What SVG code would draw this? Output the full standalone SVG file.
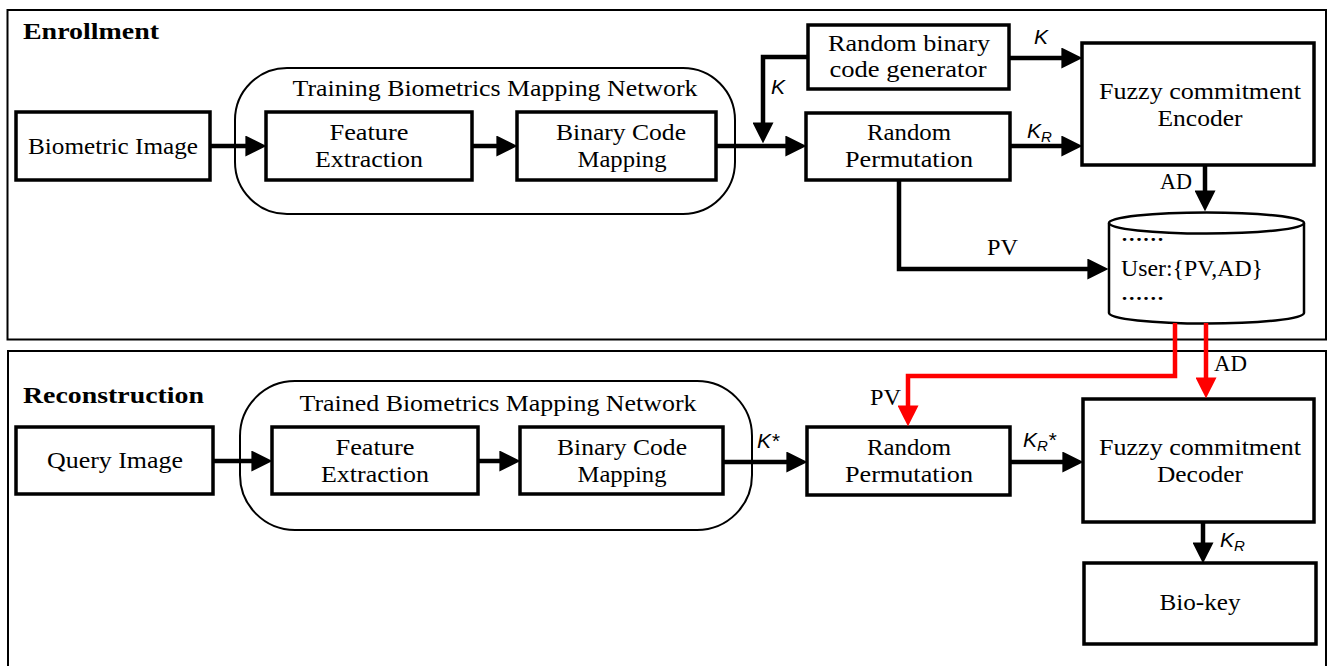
<svg xmlns="http://www.w3.org/2000/svg" width="1328" height="666" viewBox="0 0 1328 666">
  <style>
    .panel { fill: none; stroke: #000; stroke-width: 2; }
    .box { fill: #fff; stroke: #000; stroke-width: 3.5; }
    .group { fill: none; stroke: #000; stroke-width: 2; }
    .t { font-family: "Liberation Serif", "Times New Roman", serif; font-size: 24px; fill: #000; }
    .c { text-anchor: middle; }
    .dots { font-family: "Liberation Serif", "Times New Roman", serif; font-size: 18px; font-weight: bold; fill: #000; }
    .title { font-family: "Liberation Serif", "Times New Roman", serif; font-size: 24px; font-weight: bold; fill: #000; }
    .k { font-family: "Liberation Sans", Arial, sans-serif; font-style: italic; font-size: 21px; fill: #000; }
    .sub { font-size: 15px; }
    .wire { fill: none; stroke: #000; stroke-width: 4.5; stroke-linejoin: miter; marker-end: url(#arr); }
    .wire-red { fill: none; stroke: #ff0000; stroke-width: 4.5; stroke-linejoin: miter; marker-end: url(#arrRed); }
  </style>
  <defs>
    <marker id="arr" viewBox="0 0 20 20" markerUnits="userSpaceOnUse" markerWidth="21" markerHeight="21" refX="12" refY="10" orient="auto">
      <path d="M0,0 L20,10 L0,20 z" fill="#000"/>
    </marker>
    <marker id="arrRed" viewBox="0 0 20 20" markerUnits="userSpaceOnUse" markerWidth="21" markerHeight="21" refX="12" refY="10" orient="auto">
      <path d="M0,0 L20,10 L0,20 z" fill="#ff0000"/>
    </marker>
  </defs>

  <!-- Section frames -->
  <g id="enrollment-panel">
    <rect class="panel" x="7.5" y="10" width="1318.5" height="329.5"/>
    <text class="title" x="23" y="39" textLength="136" lengthAdjust="spacingAndGlyphs">Enrollment</text>
  </g>
  <g id="reconstruction-panel">
    <rect class="panel" x="8" y="351" width="1318" height="330"/>
    <text class="title" x="23" y="403" textLength="181" lengthAdjust="spacingAndGlyphs">Reconstruction</text>
  </g>

  <!-- Enrollment nodes -->
  <g id="training-network">
    <rect class="group" x="235" y="68" width="500" height="146" rx="52" ry="52"/>
    <text class="t c" x="495" y="96" textLength="405" lengthAdjust="spacingAndGlyphs">Training Biometrics Mapping Network</text>
  </g>
  <g id="biometric-image">
    <rect class="box" x="16" y="112" width="194" height="68"/>
    <text class="t c" x="113" y="154" textLength="170" lengthAdjust="spacingAndGlyphs">Biometric Image</text>
  </g>
  <g id="feature-extraction-enroll">
    <rect class="box" x="266" y="112" width="206" height="68"/>
    <text class="t c" x="369" y="140" textLength="79" lengthAdjust="spacingAndGlyphs">Feature</text>
    <text class="t c" x="369" y="167" textLength="108" lengthAdjust="spacingAndGlyphs">Extraction</text>
  </g>
  <g id="binary-code-mapping-enroll">
    <rect class="box" x="517" y="112" width="199" height="68"/>
    <text class="t c" x="621" y="140" textLength="130" lengthAdjust="spacingAndGlyphs">Binary Code</text>
    <text class="t c" x="622" y="167" textLength="89" lengthAdjust="spacingAndGlyphs">Mapping</text>
  </g>
  <g id="random-code-generator">
    <rect class="box" x="808" y="25" width="201" height="64"/>
    <text class="t c" x="909" y="51" textLength="162" lengthAdjust="spacingAndGlyphs">Random binary</text>
    <text class="t c" x="908" y="77" textLength="157" lengthAdjust="spacingAndGlyphs">code generator</text>
  </g>
  <g id="random-permutation-enroll">
    <rect class="box" x="806" y="113" width="204" height="67"/>
    <text class="t c" x="909" y="140" textLength="84" lengthAdjust="spacingAndGlyphs">Random</text>
    <text class="t c" x="909" y="167" textLength="128" lengthAdjust="spacingAndGlyphs">Permutation</text>
  </g>
  <g id="fc-encoder">
    <rect class="box" x="1082" y="43" width="232" height="122"/>
    <text class="t c" x="1200" y="99" textLength="202" lengthAdjust="spacingAndGlyphs">Fuzzy commitment</text>
    <text class="t c" x="1200" y="126" textLength="85" lengthAdjust="spacingAndGlyphs">Encoder</text>
  </g>
  <g id="database">
    <path d="M1109,223 L1109,313 A97.5,10.5 0 0 0 1304,313 L1304,223" fill="#fff" stroke="#000" stroke-width="2.5"/>
    <ellipse cx="1206.5" cy="223" rx="97.5" ry="10.5" fill="#fff" stroke="#000" stroke-width="2.5"/>
    <text class="dots" x="1121" y="241" textLength="43" lengthAdjust="spacingAndGlyphs">……</text>
    <text class="t" x="1121" y="276" textLength="142" lengthAdjust="spacingAndGlyphs">User:{PV,AD}</text>
    <text class="dots" x="1121" y="300" textLength="43" lengthAdjust="spacingAndGlyphs">……</text>
  </g>

  <!-- Reconstruction nodes -->
  <g id="trained-network">
    <rect class="group" x="240" y="381" width="512" height="149" rx="55" ry="55"/>
    <text class="t c" x="498" y="411" textLength="397" lengthAdjust="spacingAndGlyphs">Trained Biometrics Mapping Network</text>
  </g>
  <g id="query-image">
    <rect class="box" x="16" y="427" width="197" height="67"/>
    <text class="t c" x="115" y="468" textLength="136" lengthAdjust="spacingAndGlyphs">Query Image</text>
  </g>
  <g id="feature-extraction-recon">
    <rect class="box" x="272" y="427" width="206" height="67"/>
    <text class="t c" x="375" y="455" textLength="79" lengthAdjust="spacingAndGlyphs">Feature</text>
    <text class="t c" x="375" y="482" textLength="108" lengthAdjust="spacingAndGlyphs">Extraction</text>
  </g>
  <g id="binary-code-mapping-recon">
    <rect class="box" x="520" y="427" width="203" height="67"/>
    <text class="t c" x="622" y="455" textLength="130" lengthAdjust="spacingAndGlyphs">Binary Code</text>
    <text class="t c" x="622" y="482" textLength="89" lengthAdjust="spacingAndGlyphs">Mapping</text>
  </g>
  <g id="random-permutation-recon">
    <rect class="box" x="807" y="427" width="203" height="68"/>
    <text class="t c" x="909" y="455" textLength="84" lengthAdjust="spacingAndGlyphs">Random</text>
    <text class="t c" x="909" y="482" textLength="128" lengthAdjust="spacingAndGlyphs">Permutation</text>
  </g>
  <g id="fc-decoder">
    <rect class="box" x="1083" y="399" width="231" height="123"/>
    <text class="t c" x="1200" y="455" textLength="202" lengthAdjust="spacingAndGlyphs">Fuzzy commitment</text>
    <text class="t c" x="1200" y="482" textLength="86" lengthAdjust="spacingAndGlyphs">Decoder</text>
  </g>
  <g id="bio-key">
    <rect class="box" x="1084" y="563" width="232" height="81"/>
    <text class="t c" x="1200" y="610" textLength="81" lengthAdjust="spacingAndGlyphs">Bio-key</text>
  </g>

  <!-- Connectors (line ends stop 8px short of the arrow tip) -->
  <g id="connectors">
    <path class="wire" d="M210,146 L258,146"/>
    <path class="wire" d="M472,146 L509,146"/>
    <path class="wire" d="M716,146 L798,146"/>
    <path class="wire" d="M808,57 L763,57 L763,135"/>
    <path class="wire" d="M1009,58 L1074,58"/>
    <path class="wire" d="M1010,146 L1074,146"/>
    <path class="wire" d="M1205,165 L1205,203"/>
    <path class="wire" d="M899,180 L899,269 L1100,269"/>

    <path class="wire" d="M213,461 L264,461"/>
    <path class="wire" d="M478,461 L512,461"/>
    <path class="wire" d="M723,462 L799,462"/>
    <path class="wire" d="M1010,462 L1075,462"/>
    <path class="wire" d="M1203,522 L1203,555"/>

    <path class="wire-red" d="M1175,323 L1175,376 L908,376 L908,418"/>
    <path class="wire-red" d="M1206,323 L1206,390"/>

    <!-- connector labels -->
    <text class="k" x="771" y="94">K</text>
    <text class="k" x="1034" y="44">K</text>
    <text class="k" x="1027" y="138">K<tspan class="sub" dy="4">R</tspan></text>
    <text class="t" x="1160" y="189" textLength="32" lengthAdjust="spacingAndGlyphs">AD</text>
    <text class="t" x="987" y="255" textLength="31" lengthAdjust="spacingAndGlyphs">PV</text>

    <text class="k" x="757" y="448">K*</text>
    <text class="k" x="1023" y="447">K<tspan class="sub" dy="4">R</tspan><tspan dy="-4">*</tspan></text>
    <text class="k" x="1220" y="547">K<tspan class="sub" dy="4">R</tspan></text>
    <text class="t" x="870" y="405" textLength="31" lengthAdjust="spacingAndGlyphs">PV</text>
    <text class="t" x="1214" y="371" textLength="33" lengthAdjust="spacingAndGlyphs">AD</text>
  </g>
</svg>
